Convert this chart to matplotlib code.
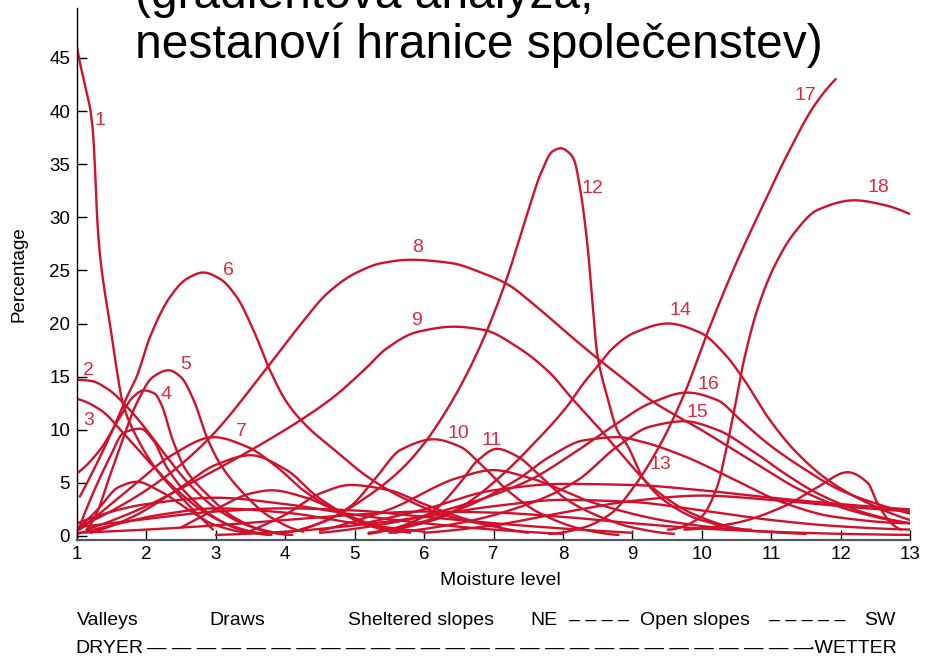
import matplotlib
matplotlib.use('Agg')
import matplotlib.pyplot as plt
import numpy as np

RED = '#d0112b'
LABEL_RED = '#dc2a3e'
FONT = 'Liberation Sans'

# species response curves along the moisture gradient (moisture level, percentage)
sp1 = ([1.0, 1.05, 1.12, 1.19, 1.23, 1.26, 1.29, 1.33, 1.39, 1.48, 1.55, 1.66, 1.86, 2.15, 2.49, 2.96],
       [46.0, 44.3, 42.3, 40.2, 38.0, 34.5, 30.0, 26.5, 23.4, 19.7, 16.6, 12.5, 9.3, 6.2, 3.7, 0.6])
sp2 = ([1.0, 1.2, 1.45, 1.7, 2.0, 2.3, 2.6, 3.0, 3.5, 4.0],
       [14.7, 14.6, 13.8, 12.3, 10.0, 7.4, 5.0, 2.6, 0.9, 0.2])
sp3 = ([1.0, 1.33, 1.72, 2.05, 2.44, 2.87, 3.25, 3.7],
       [12.9, 11.9, 9.3, 6.9, 4.3, 2.1, 0.9, 0.2])
sp4 = ([1.0, 1.33, 1.62, 1.81, 1.96, 2.12, 2.22, 2.38, 2.57, 2.86, 3.25, 3.74, 4.1],
       [5.9, 8.1, 11.2, 13.1, 13.7, 13.4, 12.3, 9.0, 6.2, 4.0, 1.8, 0.4, 0.1])
sp5 = ([1.14, 1.28, 1.47, 1.67, 1.86, 2.10, 2.32, 2.49, 2.68, 2.87, 3.06, 3.40, 3.78, 4.26],
       [0.6, 2.1, 5.6, 9.3, 12.5, 15.0, 15.6, 15.0, 12.8, 9.3, 6.8, 4.0, 1.8, 0.4])
sp6 = ([1.04, 1.48, 1.72, 1.86, 2.05, 2.34, 2.58, 2.82, 3.06, 3.30, 3.54, 3.78, 4.02, 4.3,
        4.69, 5.18, 5.66, 6.38, 7.10],
       [3.7, 9.5, 13.1, 15.0, 18.7, 22.5, 24.2, 24.8, 24.2, 22.5, 19.4, 15.6, 12.6, 10.4,
        8.2, 5.6, 3.7, 1.8, 0.9])
sp7 = ([1.04, 1.38, 1.86, 2.34, 2.97, 3.45, 3.88, 4.26, 4.7, 5.2, 5.6],
       [0.6, 2.4, 5.0, 7.5, 9.3, 8.4, 6.5, 4.3, 2.5, 1.0, 0.3])
sp8 = ([1.04, 1.62, 2.34, 2.92, 3.78, 4.22, 4.6, 5.0, 5.4, 5.8, 6.38, 6.86, 7.20, 7.58,
        8.06, 8.50, 8.83, 9.26, 9.99, 10.71, 11.43, 12.15, 13.0],
       [0.9, 2.8, 5.9, 9.3, 16.2, 19.9, 22.8, 24.7, 25.7, 26.0, 25.7, 24.7, 23.7, 21.8,
        19.1, 16.7, 15.0, 12.8, 10.0, 7.1, 4.3, 2.4, 1.2])
sp9 = ([1.14, 1.86, 2.82, 3.59, 4.22, 4.70, 5.18, 5.45, 5.90, 6.43, 6.86, 7.34, 7.82,
        8.11, 8.54, 8.83, 9.3, 9.9, 10.6],
       [0.6, 2.4, 5.6, 8.4, 10.9, 13.1, 15.9, 17.6, 19.2, 19.7, 19.4, 17.8, 15.3,
        13.1, 10.0, 7.8, 4.5, 2.0, 0.6])
sp10 = ([4.0, 4.5, 4.94, 5.32, 5.66, 6.14, 6.52, 6.81, 7.20, 7.68, 8.30, 8.8],
        [0.3, 1.2, 2.8, 5.6, 8.1, 9.1, 8.4, 6.8, 4.3, 2.1, 0.6, 0.1])
sp11 = ([5.2, 5.66, 6.14, 6.52, 6.77, 7.05, 7.34, 7.68, 8.06, 8.54, 9.0, 9.6],
        [0.2, 0.9, 2.4, 5.0, 7.1, 8.2, 7.5, 5.6, 3.4, 1.8, 0.8, 0.2])
sp12 = ([4.22, 4.70, 5.18, 5.66, 6.0, 6.33, 6.62, 6.91, 7.20, 7.49, 7.68, 7.85, 7.97, 8.10,
         8.16, 8.26, 8.35, 8.50, 8.64, 8.78, 8.93, 9.17, 9.51, 9.99, 10.71],
        [0.6, 1.8, 3.7, 6.2, 8.7, 11.9, 15.3, 19.4, 24.4, 30.4, 34.1, 36.2, 36.5, 36.0,
         35.4, 32.2, 27.6, 16.9, 13.1, 10.0, 8.5, 5.3, 3.1, 1.5, 0.6])
sp13 = ([5.2, 5.9, 6.62, 7.34, 7.82, 8.3, 8.8, 9.12, 9.75, 10.47, 11.19, 11.91, 13.0],
        [0.3, 1.2, 2.8, 5.3, 7.5, 9.0, 9.3, 8.9, 7.5, 5.3, 3.1, 1.8, 1.2])
sp14 = ([5.42, 6.14, 6.62, 7.10, 7.58, 8.06, 8.30, 8.54, 8.69, 9.02, 9.51, 9.99, 10.32,
         10.61, 10.95, 11.33, 11.81, 12.39, 13.0],
        [0.6, 1.5, 3.1, 5.6, 8.7, 12.2, 14.4, 16.3, 17.5, 19.1, 20.0, 19.1, 17.2,
         14.7, 11.2, 8.1, 5.3, 3.1, 1.5])
sp15 = ([5.5, 6.5, 7.5, 8.2, 8.78, 9.26, 9.75, 10.22, 10.71, 11.19, 11.67, 12.39, 13.0],
        [0.3, 1.2, 3.0, 5.2, 8.4, 10.3, 10.8, 10.0, 8.1, 5.9, 4.0, 2.1, 1.2])
sp16 = ([4.5, 5.5, 6.5, 7.5, 8.2, 8.78, 9.26, 9.79, 10.22, 10.56, 10.95, 11.43, 12.0, 12.63, 13.0],
        [0.3, 1.2, 2.8, 5.2, 8.0, 10.6, 12.5, 13.5, 12.8, 10.9, 8.7, 6.5, 4.3, 2.8, 2.1])
sp17 = ([7.8, 8.3, 8.69, 9.02, 9.41, 9.75, 10.08, 10.47, 10.85, 11.24, 11.62, 11.93],
        [0.2, 0.8, 2.1, 4.6, 8.7, 13.4, 19.1, 25.3, 30.7, 36.0, 40.5, 43.0])
sp18 = ([9.51, 9.99, 10.22, 10.37, 10.47, 10.61, 10.80, 11.04, 11.33, 11.67, 12.20, 12.6, 13.0],
        [0.6, 1.8, 4.6, 8.7, 11.9, 16.6, 21.3, 25.3, 28.5, 30.7, 31.6, 31.2, 30.3])

# unnumbered species
minor_a = ([1.02, 1.48, 1.67, 1.91, 2.10, 2.29, 2.58, 2.97, 3.35, 3.8],
           [0.6, 7.5, 9.7, 10.1, 9.0, 6.5, 4.0, 1.8, 0.6, 0.1])
minor_b = ([1.2, 1.8, 2.5, 3.0, 3.5, 4.02, 4.46, 5.0, 5.5],
           [0.3, 1.8, 4.6, 6.7, 7.6, 6.2, 3.7, 1.6, 0.5])
minor_c = ([1.0, 1.3, 1.6, 1.86, 2.2, 2.6, 3.0, 3.5],
           [0.6, 2.5, 4.6, 5.1, 4.2, 2.5, 1.0, 0.3])
minor_d = ([2.5, 3.0, 3.5, 3.8, 4.3, 4.8, 5.3, 5.8],
           [0.8, 2.5, 4.0, 4.3, 3.6, 2.2, 1.0, 0.3])
minor_e = ([3.5, 4.0, 4.5, 4.94, 5.5, 6.0, 6.5, 7.0, 7.5],
           [0.5, 2.0, 4.0, 4.8, 4.3, 3.0, 1.8, 0.9, 0.3])
minor_f = ([4.5, 5.5, 6.5, 7.0, 7.5, 8.5, 9.5, 10.5, 11.5],
           [0.5, 2.5, 5.5, 6.2, 5.5, 3.0, 1.4, 0.6, 0.2])
minor_g = ([5.0, 6.0, 7.0, 8.0, 9.0, 10.0, 11.0, 12.0, 13.0],
           [1.0, 2.5, 4.3, 4.9, 4.8, 4.3, 3.6, 3.0, 2.5])
minor_h = ([1, 2, 3, 4, 5, 6, 7, 8],
           [1.2, 3.0, 3.6, 3.0, 2.0, 1.2, 0.6, 0.2])
minor_i = ([1, 2, 3, 4, 5, 6, 7, 8, 9],
           [0.8, 1.6, 2.3, 2.6, 2.4, 1.8, 1.2, 0.7, 0.3])
minor_j = ([1, 2, 3, 4, 5, 6, 7, 8, 9, 10, 11, 12, 13],
           [0.3, 0.6, 1.0, 1.5, 2.0, 2.3, 2.2, 1.8, 1.2, 0.7, 0.4, 0.2, 0.1])
minor_k = ([9.75, 10.47, 11.19, 11.67, 12.10, 12.39, 12.53, 12.73, 12.87],
           [0.6, 1.2, 2.8, 4.6, 6.0, 5.0, 3.1, 1.2, 0.6])
minor_l = ([6, 7, 8, 9, 10, 11, 12, 13],
           [0.3, 1.0, 2.2, 3.3, 3.8, 3.4, 2.8, 2.3])
minor_m = ([1.0, 1.5, 2.2, 3.0, 4.0, 5.0, 6.0],
           [0.2, 1.0, 2.0, 2.6, 2.2, 1.2, 0.4])
minor_n = ([3, 4, 5, 6, 7, 8, 9, 10, 11, 12, 13],
           [0.1, 0.4, 1.0, 1.8, 2.8, 3.4, 3.2, 2.4, 1.5, 0.9, 0.6])

numbered = [sp1, sp2, sp3, sp4, sp5, sp6, sp7, sp8, sp9, sp10,
            sp11, sp12, sp13, sp14, sp15, sp16, sp17, sp18]
unnumbered = [minor_a, minor_b, minor_c, minor_d, minor_e, minor_f, minor_g,
              minor_h, minor_i, minor_j, minor_k, minor_l, minor_m, minor_n]

# where each species number is written
label_x = [1.33, 1.16, 1.17, 2.28, 2.57, 3.18, 3.37, 5.90, 5.89, 6.50,
           6.97, 8.43, 9.41, 9.70, 9.94, 10.09, 11.50, 12.54]
label_y = [39.1, 15.6, 10.9, 13.3, 16.1, 25.0, 9.8, 27.2, 20.3, 9.6,
           9.0, 32.7, 6.7, 21.2, 11.6, 14.3, 41.5, 32.8]

x_ticks = list(range(1, 14))
y_ticks = list(range(0, 50, 5))


def end_slope(h0, h1, d0, d1):
    m = ((2 * h0 + h1) * d0 - h0 * d1) / (h0 + h1)
    if np.sign(m) != np.sign(d0):
        m = 0.0
    elif np.sign(d0) != np.sign(d1) and abs(m) > abs(3 * d0):
        m = 3 * d0
    return m


def smooth(x, y, n=500):
    # monotone cubic (PCHIP) through the sampled points
    x = np.asarray(x, float)
    y = np.asarray(y, float)
    h = np.diff(x)
    d = np.diff(y) / h
    m = np.zeros_like(y)
    for k in range(1, len(x) - 1):
        if d[k - 1] * d[k] > 0:
            w1 = 2 * h[k] + h[k - 1]
            w2 = h[k] + 2 * h[k - 1]
            m[k] = (w1 + w2) / (w1 / d[k - 1] + w2 / d[k])
    m[0] = end_slope(h[0], h[1], d[0], d[1])
    m[-1] = end_slope(h[-1], h[-2], d[-1], d[-2])
    xs = np.linspace(x[0], x[-1], n)
    i = np.clip(np.searchsorted(x, xs, side='right') - 1, 0, len(h) - 1)
    t = (xs - x[i]) / h[i]
    ys = ((2 * t**3 - 3 * t**2 + 1) * y[i] + (t**3 - 2 * t**2 + t) * h[i] * m[i]
          + (-2 * t**3 + 3 * t**2) * y[i + 1] + (t**3 - t**2) * h[i] * m[i + 1])
    return xs, ys


plt.rcParams['font.family'] = [FONT, 'DejaVu Sans']

fig = plt.figure(figsize=(9.28, 6.59), dpi=100)
ax = fig.add_axes([77 / 928, 1 - 540 / 659, 833 / 928, 532 / 659])

for cx, cy in unnumbered + numbered:
    xs, ys = smooth(cx, cy)
    ax.plot(xs, ys, color=RED, lw=1.7, solid_capstyle='round')

for k, (lx, ly) in enumerate(zip(label_x, label_y)):
    ax.text(lx, ly, str(k + 1), color=LABEL_RED, fontsize=14,
            ha='center', va='center')

ax.set_xlim(1, 13)
ax.set_ylim(-0.38, 49.7)
ax.set_xticks(x_ticks)
ax.set_yticks(y_ticks)
ax.tick_params(direction='in', length=7, width=1, labelsize=13.5, color='black')
ax.tick_params(axis='x', pad=4)
ax.tick_params(axis='y', pad=5)
for side in ('top', 'right'):
    ax.spines[side].set_visible(False)
ax.spines['left'].set_linewidth(1.0)
ax.spines['bottom'].set_color('#555a60')
ax.spines['bottom'].set_linewidth(1.6)

ax.set_xlabel('Moisture level', fontsize=14)
ax.xaxis.set_label_coords(0.508, -0.060)
ax.set_ylabel('Percentage', fontsize=13.5)
ax.yaxis.set_label_coords(-0.060, 0.5)

# slide heading laid over the top of the chart
fig.text(135 / 928, 1 - 8 / 659, '(gradientová analýza,', fontsize=34.5,
         ha='left', va='baseline')
fig.text(135 / 928, 1 - 58 / 659, 'nestanoví hranice společenstev)', fontsize=34.5,
         ha='left', va='baseline')

# topographic positions along the gradient
row1 = 1 - 625 / 659
fig.text(77 / 928, row1, 'Valleys', fontsize=14, va='baseline')
fig.text(209 / 928, row1, 'Draws', fontsize=14, va='baseline')
fig.text(348 / 928, row1, 'Sheltered slopes', fontsize=14, va='baseline')
fig.text(530 / 928, row1, 'NE', fontsize=14, va='baseline')
fig.text(599 / 928, row1, '– – – –', fontsize=14, va='baseline', ha='center')
fig.text(640 / 928, row1, 'Open slopes', fontsize=14, va='baseline')
fig.text(807 / 928, row1, '– – – – –', fontsize=14, va='baseline', ha='center')
fig.text(896 / 928, row1, 'SW', fontsize=14, va='baseline', ha='right')

row2 = 1 - 653 / 659
fig.text(75 / 928, row2, 'DRYER', fontsize=14, va='baseline')
fig.text(480 / 928, row2, ' '.join(['—'] * 27), fontsize=14, va='baseline', ha='center')
fig.text(897 / 928, row2, '·WETTER', fontsize=14, va='baseline', ha='right')

fig.savefig('out.png', dpi=100, facecolor='white')
